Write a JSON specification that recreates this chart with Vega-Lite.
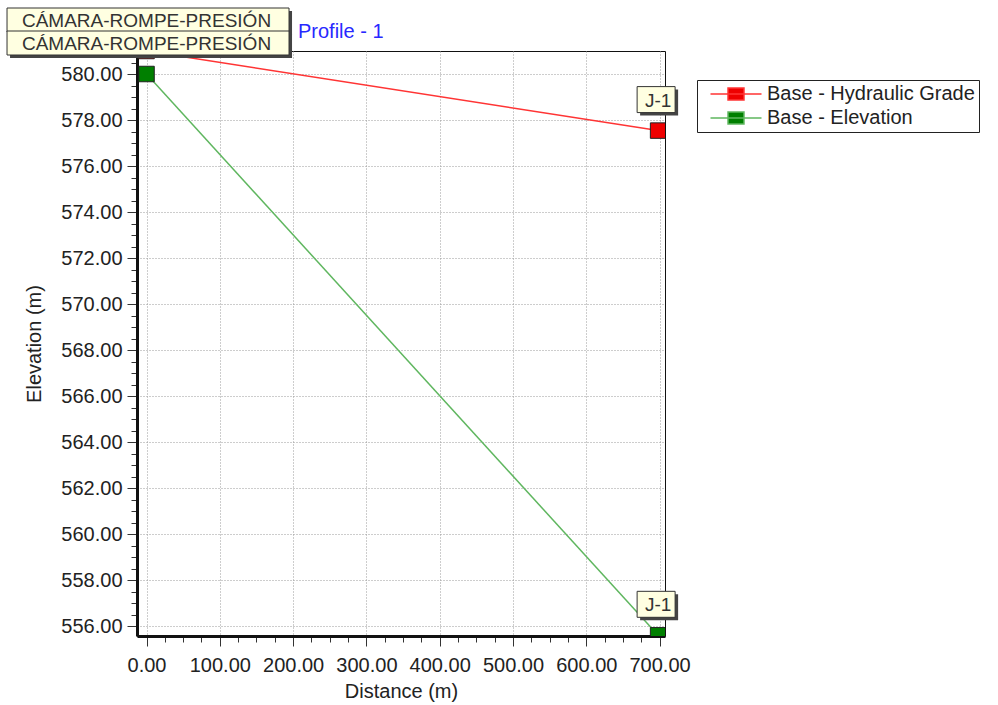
{
  "$schema": "https://vega.github.io/schema/vega-lite/v6.json",
  "width": 528,
  "height": 585,
  "autosize": {"type": "none"},
  "padding": {"left": 137, "top": 51, "right": 333, "bottom": 69},
  "background": "white",
  "config": {
    "font": "Liberation Sans",
    "view": {"stroke": "#111", "strokeWidth": 1},
    "axis": {
      "labelFont": "Liberation Sans",
      "titleFont": "Liberation Sans",
      "labelFontSize": 20,
      "titleFontSize": 20,
      "titleFontWeight": "normal",
      "labelColor": "#222",
      "titleColor": "#222",
      "domainColor": "#111",
      "domainWidth": 3,
      "tickColor": "#333",
      "gridColor": "#9a9a9a",
      "gridDash": [1, 2],
      "gridWidth": 1
    }
  },
  "title": {
    "text": "Profile - 1",
    "anchor": "start",
    "frame": "group",
    "dx": 161,
    "fontSize": 20,
    "fontWeight": "normal",
    "font": "Liberation Sans",
    "color": "#2828ff",
    "baseline": "alphabetic",
    "offset": -52
  },
  "data": {
    "values": [
      {"series": "Base - Hydraulic Grade", "distance": 0, "value": 581.0, "label": "CÁMARA-ROMPE-PRESIÓN"},
      {"series": "Base - Hydraulic Grade", "distance": 698, "value": 577.54, "label": "J-1"},
      {"series": "Base - Elevation", "distance": 0, "value": 580.0, "label": "CÁMARA-ROMPE-PRESIÓN"},
      {"series": "Base - Elevation", "distance": 698, "value": 555.6, "label": "J-1"}
    ]
  },
  "encoding": {
    "x": {
      "field": "distance",
      "type": "quantitative",
      "scale": {"domain": [-13, 707.4], "nice": false, "zero": false},
      "axis": {
        "title": "Distance (m)",
        "values": [0, 25, 50, 75, 100, 125, 150, 175, 200, 225, 250, 275, 300, 325, 350, 375, 400, 425, 450, 475, 500, 525, 550, 575, 600, 625, 650, 675, 700],
        "labelExpr": "datum.value % 100 === 0 ? format(datum.value, '.2f') : ''",
        "tickSize": {"condition": {"test": "datum.value % 100 === 0", "value": 10}, "value": 6},
        "gridOpacity": {"condition": {"test": "datum.value % 100 === 0", "value": 1}, "value": 0},
        "labelPadding": 9,
        "titleY": 61,
        "titleBaseline": "alphabetic"
      }
    },
    "y": {
      "field": "value",
      "type": "quantitative",
      "scale": {"domain": [555.57, 581.0], "nice": false, "zero": false},
      "axis": {
        "title": "Elevation (m)",
        "values": [556, 556.5, 557, 557.5, 558, 558.5, 559, 559.5, 560, 560.5, 561, 561.5, 562, 562.5, 563, 563.5, 564, 564.5, 565, 565.5, 566, 566.5, 567, 567.5, 568, 568.5, 569, 569.5, 570, 570.5, 571, 571.5, 572, 572.5, 573, 573.5, 574, 574.5, 575, 575.5, 576, 576.5, 577, 577.5, 578, 578.5, 579, 579.5, 580, 580.5],
        "labelExpr": "datum.value % 2 === 0 ? format(datum.value, '.2f') : ''",
        "tickSize": {"condition": {"test": "datum.value % 2 === 0", "value": 10}, "value": 6},
        "gridOpacity": {"condition": {"test": "datum.value % 2 === 0", "value": 1}, "value": 0},
        "labelPadding": 5,
        "titleX": -97,
        "titleBaseline": "alphabetic"
      }
    }
  },
  "layer": [
    {
      "mark": {"type": "line", "strokeWidth": 1.5, "clip": true},
      "encoding": {
        "detail": {"field": "series"},
        "color": {
          "field": "series",
          "type": "nominal",
          "scale": {"domain": ["Base - Hydraulic Grade", "Base - Elevation"], "range": ["#ff3434", "#5fb65f"]},
          "legend": {
            "orient": "none",
            "legendX": 560,
            "legendY": 29,
            "title": null,
            "symbolType": "M-4.25,0H4.25M-1.33,-1H1.33V1H-1.33Z",
            "symbolSize": 144,
            "symbolStrokeWidth": 1.5,
            "symbolOffset": 25,
            "labelOffset": 21,
            "labelFontSize": 20,
            "labelFont": "Liberation Sans",
            "labelColor": "#222",
            "padding": 4,
            "rowPadding": 4,
            "strokeColor": "#222",
            "fillColor": "white",
            "labelLimit": 400,
            "encode": {
              "symbols": {
                "update": {
                  "fill": {"signal": "datum.value === 'Base - Elevation' ? '#007f00' : '#ee0000'"},
                  "stroke": {"signal": "datum.value === 'Base - Elevation' ? '#5fb65f' : '#ff3434'"},
                  "opacity": {"value": 1}
                }
              }
            }
          }
        }
      }
    },
    {
      "mark": {"type": "point", "shape": "square", "size": 240, "filled": true, "stroke": "#222", "strokeWidth": 1, "opacity": 1, "clip": true},
      "encoding": {
        "fill": {
          "field": "series",
          "type": "nominal",
          "scale": {"domain": ["Base - Hydraulic Grade", "Base - Elevation"], "range": ["#ee0000", "#007f00"]},
          "legend": null
        }
      }
    },
    {
      "transform": [{"filter": "datum.label !== 'J-1'"}],
      "mark": {"type": "point", "shape": "M-1,-0.0851H1V0.0851H-1Z", "size": 79524, "filled": true, "fill": "#444", "opacity": 1, "xOffset": 4.5, "yOffset": -28},
      "encoding": {}
    },
    {
      "transform": [{"filter": "datum.label !== 'J-1'"}],
      "mark": {"type": "point", "shape": "M-1,-0.0851H1V0.0851H-1Z", "size": 79524, "filled": true, "fill": "#ffffe1", "stroke": "#333", "strokeWidth": 1, "opacity": 1, "xOffset": 1.5, "yOffset": -31},
      "encoding": {}
    },
    {
      "transform": [{"filter": "datum.label === 'J-1'"}],
      "mark": {"type": "point", "shape": "M-1,-0.684H1V0.684H-1Z", "size": 1444, "filled": true, "fill": "#444", "opacity": 1, "xOffset": 1, "yOffset": -28},
      "encoding": {}
    },
    {
      "transform": [{"filter": "datum.label === 'J-1'"}],
      "mark": {"type": "point", "shape": "M-1,-0.684H1V0.684H-1Z", "size": 1444, "filled": true, "fill": "#ffffe1", "stroke": "#333", "strokeWidth": 1, "opacity": 1, "xOffset": -2, "yOffset": -31},
      "encoding": {}
    },
    {
      "mark": {"type": "text", "fontSize": 19, "font": "Liberation Sans", "color": "#333", "baseline": "middle", "align": "center", "dy": -30},
      "encoding": {
        "text": {"field": "label"}
      }
    }
  ]
}
